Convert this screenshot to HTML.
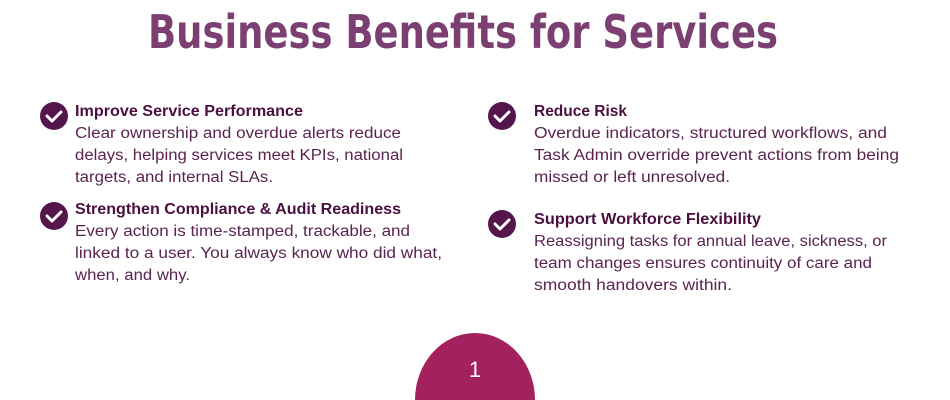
<!DOCTYPE html>
<html><head><meta charset="utf-8"><style>
html,body{margin:0;padding:0;background:#fff;width:950px;height:400px;overflow:hidden}
svg{display:block}
text{font-family:"Liberation Sans",sans-serif}
.h{font-weight:bold;font-size:15.5px;fill:#4a1040}
.b{font-size:15.5px;fill:#5a2450}
</style></head><body>
<svg width="950" height="400" viewBox="0 0 950 400">
<text x="148" y="48" textLength="630" lengthAdjust="spacingAndGlyphs" style="font-family:'DejaVu Sans',sans-serif;font-weight:bold;font-size:46px;fill:#7b3f72">Business Benefits for Services</text>

<g>
<circle cx="54" cy="116" r="14" fill="#55174b"/>
<path d="M47 116 l5 5 l9 -9" stroke="#fff" stroke-width="3" fill="none" stroke-linecap="round" stroke-linejoin="round"/>
<text class="h" x="75" y="116" textLength="228" lengthAdjust="spacingAndGlyphs">Improve Service Performance</text>
<text class="b" x="75" y="138" textLength="326" lengthAdjust="spacingAndGlyphs">Clear ownership and overdue alerts reduce</text>
<text class="b" x="75" y="160" textLength="328" lengthAdjust="spacingAndGlyphs">delays, helping services meet KPIs, national</text>
<text class="b" x="75" y="182" textLength="198" lengthAdjust="spacingAndGlyphs">targets, and internal SLAs.</text>
</g>

<g>
<circle cx="54" cy="216" r="14" fill="#55174b"/>
<path d="M47 216 l5 5 l9 -9" stroke="#fff" stroke-width="3" fill="none" stroke-linecap="round" stroke-linejoin="round"/>
<text class="h" x="75" y="214" textLength="326" lengthAdjust="spacingAndGlyphs">Strengthen Compliance &amp; Audit Readiness</text>
<text class="b" x="75" y="236" textLength="335" lengthAdjust="spacingAndGlyphs">Every action is time-stamped, trackable, and</text>
<text class="b" x="75" y="258" textLength="367" lengthAdjust="spacingAndGlyphs">linked to a user. You always know who did what,</text>
<text class="b" x="75" y="280" textLength="115" lengthAdjust="spacingAndGlyphs">when, and why.</text>
</g>

<g>
<circle cx="502" cy="116" r="14" fill="#55174b"/>
<path d="M495 116 l5 5 l9 -9" stroke="#fff" stroke-width="3" fill="none" stroke-linecap="round" stroke-linejoin="round"/>
<text class="h" x="534" y="116" textLength="93" lengthAdjust="spacingAndGlyphs">Reduce Risk</text>
<text class="b" x="534" y="138" textLength="353" lengthAdjust="spacingAndGlyphs">Overdue indicators, structured workflows, and</text>
<text class="b" x="534" y="160" textLength="365" lengthAdjust="spacingAndGlyphs">Task Admin override prevent actions from being</text>
<text class="b" x="534" y="182" textLength="196" lengthAdjust="spacingAndGlyphs">missed or left unresolved.</text>
</g>

<g>
<circle cx="502" cy="224" r="14" fill="#55174b"/>
<path d="M495 224 l5 5 l9 -9" stroke="#fff" stroke-width="3" fill="none" stroke-linecap="round" stroke-linejoin="round"/>
<text class="h" x="534" y="224" textLength="227" lengthAdjust="spacingAndGlyphs">Support Workforce Flexibility</text>
<text class="b" x="534" y="246" textLength="353" lengthAdjust="spacingAndGlyphs">Reassigning tasks for annual leave, sickness, or</text>
<text class="b" x="534" y="268" textLength="338" lengthAdjust="spacingAndGlyphs">team changes ensures continuity of care and</text>
<text class="b" x="534" y="290" textLength="198" lengthAdjust="spacingAndGlyphs">smooth handovers within.</text>
</g>

<path d="M415 400 A60 67 0 0 1 535 400 Z" fill="#a3215f"/>
<text x="475" y="377" text-anchor="middle" style="font-size:22px;fill:#fff">1</text>
</svg>
</body></html>
